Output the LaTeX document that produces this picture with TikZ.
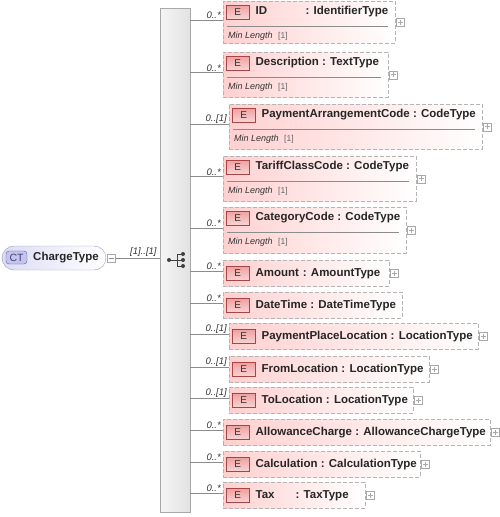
\documentclass[tikz,border=0pt]{standalone}
\usepackage{fontspec}
\setmainfont{Liberation Sans}
\usetikzlibrary{positioning}

\definecolor{boxline}{HTML}{B4B4B4}
\definecolor{boxpink}{HTML}{FFD0D0}
\definecolor{iconfill}{HTML}{F0A0A0}
\definecolor{iconline}{HTML}{A84444}
\definecolor{ctfill}{HTML}{C4C4EE}
\definecolor{ctline}{HTML}{5C5CA4}
\definecolor{pillfill}{HTML}{DCDCF6}
\definecolor{pillline}{HTML}{9C9CC0}
\definecolor{barline}{HTML}{A8A8A8}
\definecolor{barfill}{HTML}{E2E2E2}
\definecolor{wire}{HTML}{8C8C8C}

\tikzset{
  elem/.style={draw=boxline, dash pattern=on 4pt off 2pt, left color=boxpink, right color=white, anchor=north west, inner sep=0pt},
  eicon/.style={draw=iconline, top color=iconfill, bottom color=iconfill!45, minimum width=23pt, minimum height=14pt, inner sep=0pt, font=\fontsize{10}{10}\selectfont, text=black!80, anchor=west},
  elabel/.style={anchor=west, inner sep=0pt, font=\fontsize{11.5}{13}\selectfont\bfseries, text=black!85},
  minlabel/.style={anchor=west, inner sep=0pt, font=\fontsize{9}{10}\selectfont\itshape, text=black!80},
  minvalue/.style={anchor=west, inner sep=0pt, font=\fontsize{8.5}{10}\selectfont, text=black!60},
  mult/.style={anchor=south east, inner sep=1pt, font=\fontsize{9.5}{10}\selectfont\itshape, text=black!80},
  plusbox/.style={draw=barline, fill=white, minimum size=8pt, inner sep=0pt, anchor=west},
  wire/.style={draw=wire, line width=0.8pt},
  seqbar/.style={draw=barline, left color=white!96!black, right color=barfill, minimum width=30pt, minimum height=504pt, inner sep=0pt},
  ctpill/.style={draw=pillline, rounded corners=12pt, left color=pillfill, right color=white, minimum width=104pt, minimum height=24pt, inner sep=0pt},
  cticon/.style={draw=ctline, fill=ctfill, rounded corners=3pt, minimum width=21pt, minimum height=13pt, inner sep=0pt, font=\fontsize{10.5}{10}\selectfont, text=ctline!70!black}
}

\begin{document}
\begin{tikzpicture}[x=1pt, y=-1pt]

\useasboundingbox (0,0) rectangle (500,517);

% complex type
\node[ctpill] (ct) at (54,258) {};
\node[cticon] (cticon) at (16.5,257.5) {CT};
\node[elabel] (ctname) at (33,258) {ChargeType};
\node[plusbox] (ctminus) at (107,258) {};
\draw[wire, line width=0.6pt] ([xshift=-2.5pt]ctminus.center) -- ([xshift=2.5pt]ctminus.center);

% sequence
\node[seqbar] (seq) at (175,260) {};
\draw[wire] (ctminus.east) -- (seq.west |- ctminus.east);
\node[mult] (ctmult) at ([xshift=-2pt]seq.west |- ctminus.east) {[1]..[1]};

\fill[black!75] (169,260) circle (2pt);
\draw[black!75, line width=0.8pt] (169,260) -- (177,260);
\draw[black!75, line width=0.8pt] (177,254) -- (177,266);
\foreach \y in {254,260,266} {
  \draw[black!75, line width=0.8pt] (177,\y) -- (183,\y);
  \fill[black!75] (183,\y) circle (2pt);
}

% elements with a facet
\foreach \i/\l/\t/\w/\h/\m/\txt in {
  1/223/1/172/42/0..*/{\makebox[50pt][l]{ID}: IdentifierType},
  2/223/52/165/45/0..*/{Description : TextType},
  3/229/104/253/45/0..[1]/{PaymentArrangementCode : CodeType},
  4/223/156/193/45/0..*/{TariffClassCode : CodeType},
  5/223/207/183/46/0..*/{CategoryCode : CodeType}}
{
  \node[elem, minimum width=\w pt, minimum height=\h pt] (e\i) at (\l,\t) {};
  \node[eicon] (ei\i) at (\l+3,\t+11) {E};
  \node[elabel] (en\i) at ([xshift=6pt]ei\i.east) {\txt};
  \draw[wire, line width=0.6pt] ([xshift=4pt,yshift=-25pt]e\i.north west) -- ([xshift=-7pt,yshift=-25pt]e\i.north east);
  \node[minlabel] (ml\i) at ([xshift=5pt,yshift=-35pt]e\i.north west) {Min Length};
  \node[minvalue] (mv\i) at ([xshift=55pt,yshift=-35pt]e\i.north west) {[1]};
  \coordinate (c\i) at ([yshift=2pt]e\i.west);
  \draw[wire] (seq.east |- c\i) -- (c\i);
  \node[mult] (m\i) at ([xshift=-1pt]c\i) {\m};
}

% plain elements
\foreach \i/\l/\t/\w/\m/\txt in {
  6/223/260/166/0..*/{Amount\,\,: AmountType},
  7/223/292/179/0..*/{DateTime : DateTimeType},
  8/229/323/249/0..[1]/{PaymentPlaceLocation : LocationType},
  9/229/356/200/0..[1]/{FromLocation : LocationType},
  10/229/387/184/0..[1]/{ToLocation : LocationType},
  11/223/419/267/0..*/{AllowanceCharge : AllowanceChargeType},
  12/223/451/197/0..*/{Calculation : CalculationType},
  13/223/482/142/0..*/{\makebox[40pt][l]{Tax}: TaxType}}
{
  \node[elem, minimum width=\w pt, minimum height=26pt] (e\i) at (\l,\t) {};
  \node[eicon] (ei\i) at (\l+3,\t+13.5) {E};
  \node[elabel] (en\i) at ([xshift=6pt]ei\i.east) {\txt};
  \coordinate (c\i) at ([yshift=2pt]e\i.west);
  \draw[wire] (seq.east |- c\i) -- (c\i);
  \node[mult] (m\i) at ([xshift=-1pt]c\i) {\m};
}

% expand boxes
\foreach \i in {1,2,3,4,5,6,8,9,10,11,12,13} {
  \node[plusbox] (p\i) at ([xshift=1pt]e\i.east) {};
  \draw[barline, line width=0.6pt] ([xshift=-2.5pt]p\i.center) -- ([xshift=2.5pt]p\i.center);
  \draw[barline, line width=0.6pt] ([yshift=-2.5pt]p\i.center) -- ([yshift=2.5pt]p\i.center);
}

\end{tikzpicture}
\end{document}
